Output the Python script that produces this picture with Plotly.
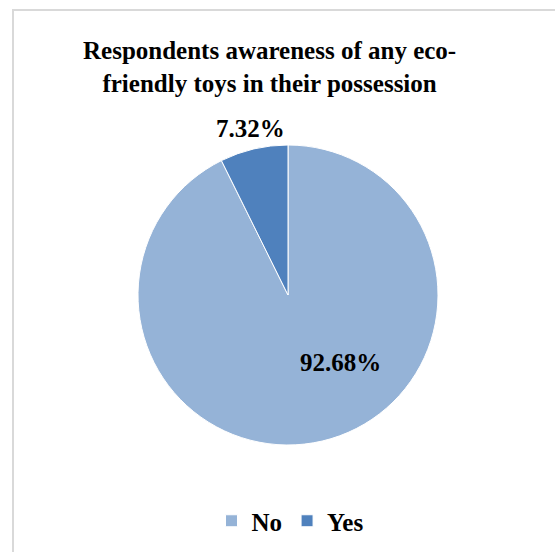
import plotly.graph_objects as go

# Survey answers and their shares (%)
labels = ["No", "Yes"]
shares = [92.68, 7.32]
colors = ["#95b3d7", "#4f81bd"]

W, H = 555, 552
SERIF = "Liberation Serif, Times New Roman, serif"


def px_x(x):
    return x / W


def px_y(y):
    return 1 - y / H


fig = go.Figure()
fig.add_trace(go.Pie(
    labels=labels,
    values=shares,
    sort=False,
    direction="clockwise",
    rotation=0,
    textinfo="none",
    hoverinfo="label+percent",
    marker=dict(colors=colors, line=dict(color="white", width=1)),
    domain=dict(x=[px_x(138), px_x(438)], y=[px_y(445), px_y(145)]),
))

# percentage labels for each slice
label_pos = {"No": (340, 362), "Yes": (250, 128)}
annotations = []
for lab, val in zip(labels, shares):
    x, y = label_pos[lab]
    annotations.append(dict(
        x=px_x(x), y=px_y(y), xref="paper", yref="paper",
        text=f"<b>{val:.2f}%</b>", showarrow=False,
        xanchor="center", yanchor="middle",
        font=dict(family=SERIF, size=25, color="#000000"),
    ))

annotations.append(dict(
    x=px_x(269), y=px_y(67), xref="paper", yref="paper",
    text="<b>Respondents awareness of any eco-<br>friendly toys in their possession</b>",
    showarrow=False, xanchor="center", yanchor="middle", align="center",
    font=dict(family=SERIF, size=25, color="#000000"),
))

fig.update_layout(
    width=W, height=H,
    margin=dict(l=0, r=0, t=0, b=0),
    paper_bgcolor="white",
    plot_bgcolor="white",
    annotations=annotations,
    showlegend=True,
    legend=dict(
        orientation="h", x=px_x(290), y=px_y(521),
        xanchor="center", yanchor="middle",
        font=dict(family=SERIF, size=25, color="#000000", weight="bold"),
        itemclick=False, itemdoubleclick=False,
    ),
    shapes=[dict(
        type="rect", xref="paper", yref="paper",
        x0=px_x(13), x1=1.05, y0=-0.05, y1=px_y(10),
        line=dict(color="#d9d9d9", width=2), fillcolor="rgba(0,0,0,0)",
    )],
)

fig.write_html("out.html")
